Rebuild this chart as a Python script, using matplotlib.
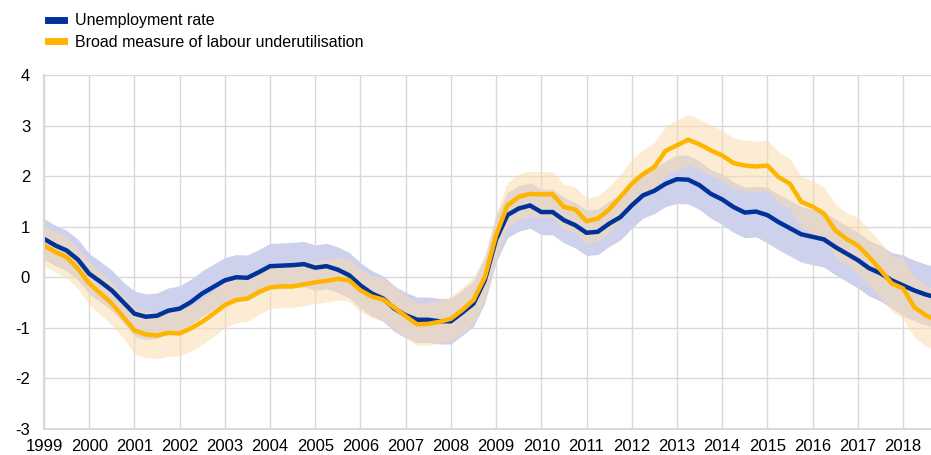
import numpy as np
import matplotlib
matplotlib.use("Agg")
from matplotlib import pyplot as plt
from matplotlib.lines import Line2D

plt.rcParams['font.family'] = ['Liberation Sans', 'DejaVu Sans']
plt.rcParams['axes.unicode_minus'] = False

# quarterly, 1999Q1 - 2018Q4
years = list(range(1999, 2019))
quarters = np.arange(1999, 2019, 0.25)

unemployment = [
    0.76, 0.63, 0.53, 0.35,
    0.07, -0.09, -0.26, -0.49,
    -0.72, -0.78, -0.76, -0.66,
    -0.62, -0.49, -0.32, -0.19,
    -0.06, 0.00, -0.01, 0.10,
    0.22, 0.23, 0.24, 0.26,
    0.19, 0.22, 0.15, 0.04,
    -0.16, -0.32, -0.42, -0.62,
    -0.75, -0.84, -0.84, -0.87,
    -0.87, -0.70, -0.52, -0.06,
    0.75, 1.23, 1.36, 1.42,
    1.29, 1.29, 1.13, 1.03,
    0.88, 0.90, 1.06, 1.19,
    1.42, 1.62, 1.71, 1.85,
    1.94, 1.93, 1.82, 1.65,
    1.54, 1.39, 1.28, 1.30,
    1.23, 1.09, 0.97, 0.85,
    0.80, 0.75, 0.60, 0.47,
    0.34, 0.18, 0.08, -0.06,
    -0.16, -0.26, -0.34, -0.40,
]

broad = [
    0.63, 0.50, 0.40, 0.17,
    -0.12, -0.32, -0.52, -0.78,
    -1.05, -1.13, -1.15, -1.10,
    -1.11, -1.01, -0.88, -0.72,
    -0.55, -0.45, -0.42, -0.29,
    -0.20, -0.18, -0.18, -0.14,
    -0.10, -0.07, -0.03, -0.06,
    -0.26, -0.38, -0.44, -0.60,
    -0.77, -0.93, -0.92, -0.88,
    -0.82, -0.65, -0.45, 0.00,
    0.83, 1.42, 1.59, 1.65,
    1.64, 1.64, 1.39, 1.34,
    1.11, 1.16, 1.34, 1.59,
    1.85, 2.04, 2.18, 2.50,
    2.61, 2.72, 2.63, 2.51,
    2.41, 2.26, 2.21, 2.19,
    2.21, 1.98, 1.85, 1.49,
    1.40, 1.26, 0.93, 0.76,
    0.63, 0.40, 0.15, -0.12,
    -0.22, -0.59, -0.75, -0.85,
]

# half width of the uncertainty bands, read per year
unemp_band = [0.40, 0.40, 0.45, 0.45, 0.45, 0.45, 0.45, 0.45, 0.45, 0.45,
              0.45, 0.45, 0.45, 0.45, 0.48, 0.50, 0.55, 0.55, 0.55, 0.60]
broad_band = [0.40, 0.42, 0.46, 0.45, 0.45, 0.42, 0.42, 0.42, 0.42, 0.45,
              0.45, 0.45, 0.45, 0.48, 0.50, 0.50, 0.50, 0.52, 0.55, 0.60]

blue = '#003299'
orange = '#FFB400'
grid_col = '#D9D9D9'

u = np.array(unemployment)
b = np.array(broad)
ub = np.repeat(unemp_band, 4)
bb = np.repeat(broad_band, 4)

fig = plt.figure(figsize=(9.31, 4.55), dpi=100)
ax = fig.add_axes([44/931, 1 - 429/455, 1 - 44/931, (429 - 75)/455])

ax.fill_between(quarters, u - ub, u + ub, color='#CDD1EC', lw=0)
ax.fill_between(quarters, b - bb, b + bb, color='#FBDBA9', alpha=0.5, lw=0)
ax.plot(quarters, u, color=blue, lw=3.2, solid_joinstyle='miter')
ax.plot(quarters, b, color=orange, lw=3.2, solid_joinstyle='miter')

ax.set_xlim(1999, 2018.62)
ax.set_ylim(-3, 4)
ax.set_xticks(years)
ax.set_xticklabels([str(y) for y in years])
ax.set_yticks(range(-3, 5))
ax.grid(True, color=grid_col, lw=1)
ax.set_axisbelow(True)
for s in ['top', 'right']:
    ax.spines[s].set_visible(False)
for s in ['left', 'bottom']:
    ax.spines[s].set_color(grid_col)
    ax.spines[s].set_linewidth(1.5)
ax.tick_params(length=0, labelsize=12, colors='black')
ax.tick_params(axis='y', pad=10)
ax.tick_params(axis='x', pad=7)

handles = [Line2D([], [], color=blue, lw=5),
           Line2D([], [], color=orange, lw=5)]
fig.legend(handles, ['Unemployment rate', 'Broad measure of labour underutilisation'],
           loc='upper left', bbox_to_anchor=(34/931, 1.002), frameon=False,
           fontsize=11.5, handlelength=1.0, handletextpad=0.65, labelspacing=0.4)

fig.savefig('out.png', dpi=100)
